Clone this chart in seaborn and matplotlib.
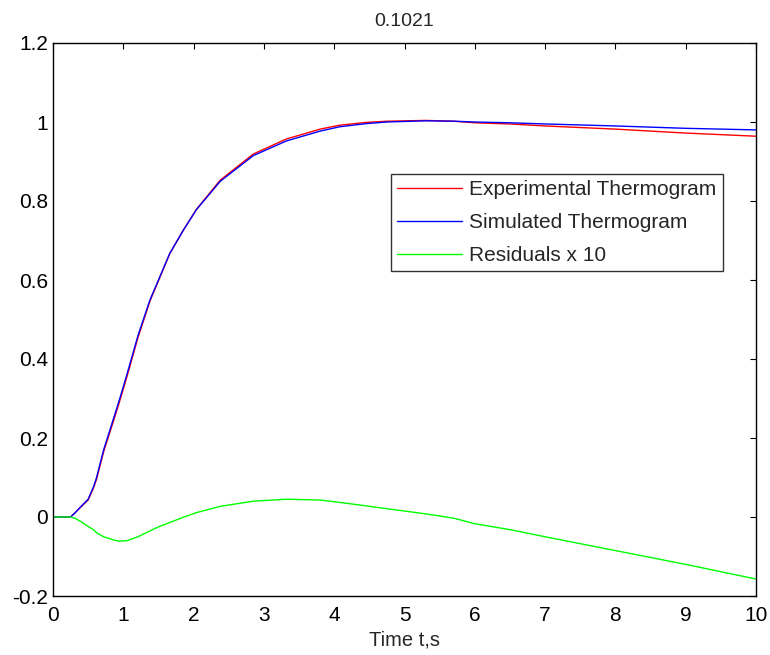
import numpy as np
import matplotlib
matplotlib.use("Agg")
import matplotlib.pyplot as plt
import pandas as pd
import seaborn as sns

## ---------------------------------------------------------------------------
## Data
## ---------------------------------------------------------------------------
time_s = [0, 0.25, 0.31, 0.4, 0.5, 0.575, 0.62, 0.72, 0.88, 0.95, 1.05, 1.21,
          1.38, 1.5, 1.66, 1.85, 2.04, 2.38, 2.85, 3.32, 3.8, 4.08, 4.46, 4.75,
          5.3, 5.7, 6, 6.5, 7, 8, 9, 10]

experimental = [0, 0, 0.010, 0.026, 0.043, 0.073, 0.096, 0.165, 0.254, 0.294,
                0.354, 0.455, 0.547, 0.598, 0.666, 0.725, 0.779, 0.853, 0.919,
                0.957, 0.982, 0.992, 0.999, 1.002, 1.004, 1.002, 0.998, 0.995,
                0.99, 0.982, 0.972, 0.964]

simulated = [0, 0, 0.010, 0.027, 0.045, 0.076, 0.10, 0.17, 0.26, 0.30, 0.36,
             0.46, 0.55, 0.60, 0.667, 0.725, 0.778, 0.85, 0.915, 0.952, 0.977,
             0.988, 0.996, 1.0, 1.003, 1.002, 1.0, 0.998, 0.995, 0.99, 0.984,
             0.98]

residuals_x10 = [0, 0, -0.003, -0.012, -0.024, -0.032, -0.04, -0.05, -0.059,
                 -0.061, -0.06, -0.05, -0.035, -0.025, -0.014, -0.001, 0.011,
                 0.027, 0.04, 0.045, 0.043, 0.037, 0.028, 0.021, 0.008, -0.003,
                 -0.017, -0.032, -0.05, -0.085, -0.12, -0.157]

title_text = "0.1021"
series_names = ["Experimental Thermogram", "Simulated Thermogram", "Residuals x 10"]
series_colors = ["#ff0000", "#0000ff", "#00ff00"]

df = pd.DataFrame({"t": time_s,
                   series_names[0]: experimental,
                   series_names[1]: simulated,
                   series_names[2]: residuals_x10})

## ---------------------------------------------------------------------------
## Plot
## ---------------------------------------------------------------------------
sns.set_style("white")
plt.rcParams['font.family'] = ['Liberation Sans', 'DejaVu Sans']

fig = plt.figure(figsize = (7.7, 6.55), dpi = 100)
ax = fig.add_axes([53 / 770, 59 / 655, 703 / 770, 553 / 655])

for name, col in zip(series_names, series_colors):
    sns.lineplot(x = "t", y = name, data = df, ax = ax, color = col,
                 linewidth = 1.0, label = name)

ax.set_xlim(0, 10)
ax.set_ylim(-0.2, 1.2)
ax.set_xticks(np.arange(0, 11, 1))
ax.set_yticks([-0.2, 0, 0.2, 0.4, 0.6, 0.8, 1, 1.2])
ax.set_yticklabels(["-0.2", "0", "0.2", "0.4", "0.6", "0.8", "1", "1.2"])
ax.tick_params(direction = "in", length = 4, width = 0.8, top = True,
               right = True, labelsize = 15, colors = "black")
ax.tick_params(axis = "x", pad = 7.5)
ax.tick_params(axis = "y", pad = 3.5)
for sp in ax.spines.values():
    sp.set_color("black")
    sp.set_linewidth(1.0)

ax.set_title(title_text, fontsize = 14, pad = 12)
ax.set_xlabel("Time t,s", fontsize = 14.5, labelpad = 4)
ax.set_ylabel("")

leg = ax.legend(loc = "upper right", bbox_to_anchor = (0.953, 0.763),
                borderaxespad = 0, fontsize = 15, frameon = True,
                fancybox = False, handlelength = 3.08, handletextpad = 0.38,
                labelspacing = 0.66, borderpad = 0.3)
leg.get_frame().set_edgecolor("black")
leg.get_frame().set_linewidth(1.0)

fig.savefig("out.png", dpi = 100)
